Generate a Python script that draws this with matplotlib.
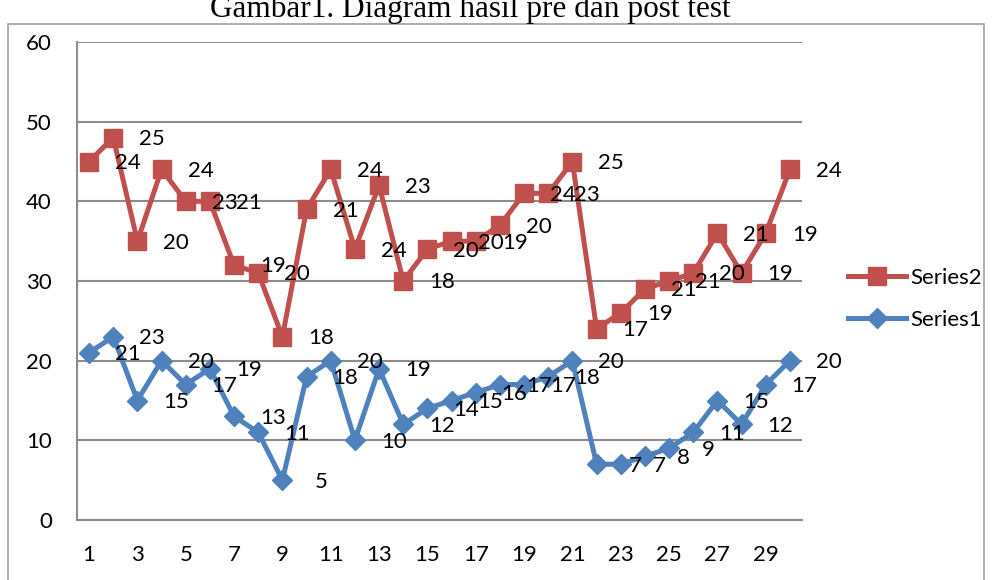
import matplotlib.pyplot as plt
from matplotlib.patches import Rectangle

plt.rcParams["font.family"] = ["Lato", "DejaVu Sans"]

days = list(range(1, 31))
series1 = [21, 23, 15, 20, 17, 19, 13, 11, 5, 18, 20, 10, 19, 12, 14,
           15, 16, 17, 17, 18, 20, 7, 7, 8, 9, 11, 15, 12, 17, 20]
series2 = [24, 25, 20, 24, 23, 21, 19, 20, 18, 21, 24, 24, 23, 18, 20,
           20, 19, 20, 24, 23, 25, 17, 19, 21, 21, 20, 21, 19, 19, 24]
# stacked line chart: series2 sits on top of series1
stacked2 = [a + b for a, b in zip(series1, series2)]

RED = "#C0504D"
BLUE = "#4F81BD"
GRID = "#8C8C8C"
FS = 16

fig = plt.figure(figsize=(9.92, 5.8), dpi=100)
fig.patches.append(Rectangle((8 / 992, -0.2), (984 - 8) / 992, 1.2 - 24 / 580,
                             transform=fig.transFigure, fill=False,
                             edgecolor="#A0A0A0", linewidth=1.2))
fig.text(470 / 992, 1 - 17 / 580, "Gambar1. Diagram hasil pre dan post test",
         family="Liberation Serif", fontsize=22.5, ha="center", va="baseline")

ax = fig.add_axes([77 / 992, 1 - 520 / 580, (802 - 77) / 992, (520 - 42) / 580])

ax.plot(days, stacked2, color=RED, lw=3.6, marker="s", ms=13.5,
        label="Series2", zorder=3)
ax.plot(days, series1, color=BLUE, lw=3.6, marker="D", ms=10.5,
        label="Series1", zorder=3)

for x, y, v in zip(days, stacked2, series2):
    ax.annotate(str(v), (x, y), xytext=(28, -1), textcoords="offset points",
                ha="center", va="center", fontsize=FS, zorder=4)
for x, y, v in zip(days, series1, series1):
    ax.annotate(str(v), (x, y), xytext=(28, -1), textcoords="offset points",
                ha="center", va="center", fontsize=FS, zorder=4)

ax.set_xlim(0.5, 30.5)
ax.set_ylim(0, 60)
ax.set_yticks(range(0, 61, 10))
ax.set_xticks(range(1, 31, 2))
ax.grid(axis="y", color=GRID, lw=1.5)
ax.set_axisbelow(True)
for s in ["top", "right"]:
    ax.spines[s].set_visible(False)
for s in ["left", "bottom"]:
    ax.spines[s].set_color(GRID)
    ax.spines[s].set_linewidth(1.5)
ax.tick_params(length=0, labelsize=FS, pad=18)

handles, labels = ax.get_legend_handles_labels()
fig.legend(handles, labels, loc="center left",
           bbox_to_anchor=(828 / 992, 1 - 299 / 580), frameon=False,
           fontsize=FS, handlelength=2.6, handletextpad=0.2, labelspacing=1.0,
           markerscale=1.0)

fig.savefig("out.png", dpi=100)
